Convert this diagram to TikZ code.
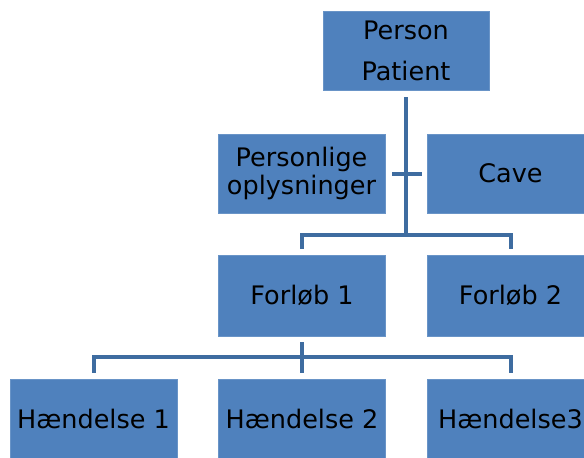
\documentclass[tikz,border=0pt]{standalone}
\usepackage{fontspec}
\setmainfont{DejaVu Sans}
\usepackage{tikz}
\usetikzlibrary{positioning}
\definecolor{boxblue}{RGB}{79,129,189}
\definecolor{lineblue}{RGB}{62,108,160}

\begin{document}
\begin{tikzpicture}[x=1pt, y=-1pt,
    box/.style={fill=boxblue, draw=boxblue!85!white, line width=0.8pt,
                minimum width=167pt, minimum height=80pt, inner sep=0pt,
                align=center, font=\fontsize{25.5}{28}\selectfont},
    link/.style={lineblue, line width=4pt}]
    \clip (0,0) rectangle (584,458);
    \useasboundingbox (0,0) rectangle (584,458);
    \node[box, minimum width=166pt, minimum height=79pt] (pers) at (406,50.5)
        {Person\\[13pt] Patient};
    \node[box, minimum height=79pt] (opl) at (301.5,173.5) {Personlige\\ oplysninger};
    \node[box, minimum height=79pt] (cave) at (510.5,173.5) {Cave};
    \node[box, minimum height=81pt] (f1) at (302,295.5) {Forløb 1};
    \node[box, minimum height=81pt] (f2) at (510.5,295.5) {Forløb 2};
    \node[box] (h1) at (93.5,419) {Hændelse 1};
    \node[box] (h2) at (302,419) {Hændelse 2};
    \node[box] (h3) at (510.5,419) {Hændelse3};
    % connectors
    \coordinate (fork) at (406,235);
    \coordinate (split) at (302,357);
    \draw[link] ([yshift=-7pt]pers.south) -- (fork);
    \draw[link] ([xshift=7pt]opl.east) -- ([xshift=-5pt]cave.west);
    \draw[link] ([yshift=6pt]f1.north) |- (fork) -| ([yshift=6pt]f2.north);
    \draw[link] ([yshift=-6pt]f1.south) -- (split);
    \draw[link] ([yshift=6pt]h1.north) |- (split) -| ([yshift=6pt]h3.north);
    \draw[link] (split) -- ([yshift=6pt]h2.north);
\end{tikzpicture}
\end{document}
